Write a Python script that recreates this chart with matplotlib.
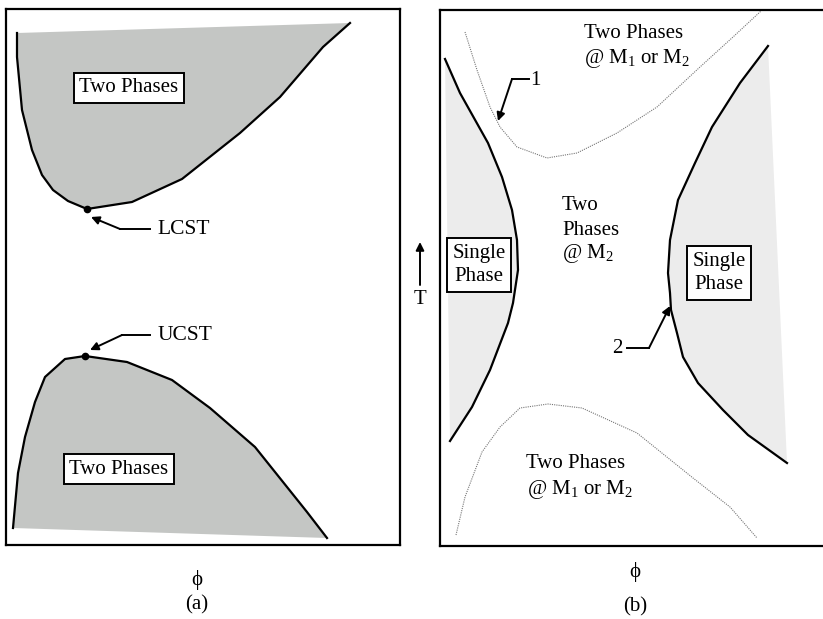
import matplotlib
matplotlib.use("Agg")
from matplotlib import pyplot as plt

plt.rcParams["font.family"] = ["Liberation Serif", "DejaVu Serif"]
plt.rcParams["font.size"] = 15
plt.rcParams["mathtext.fontset"] = "custom"
plt.rcParams["mathtext.rm"] = "Liberation Serif"
plt.rcParams["mathtext.it"] = "Liberation Serif:italic"

# coordinates, in picture pixels (y down)
# panel (a)
a_upper_x = [17, 17, 22, 32, 42, 53, 68, 87, 132, 182, 240, 280, 323, 350]
a_upper_y = [33, 57, 110, 150, 175, 190, 201, 209, 202, 179, 133, 97, 47, 23]
a_lower_x = [13, 18, 25, 35, 45, 65, 85, 127, 172, 210, 255, 307, 327]
a_lower_y = [528, 473, 437, 402, 377, 359, 356, 362, 380, 408, 447, 512, 538]
lcst = (87, 209)
ucst = (85, 356)

# panel (b)
b_left_x = [445, 460, 488, 502, 512, 517, 518, 513, 508, 490, 472, 450]
b_left_y = [59, 93, 143, 177, 210, 240, 270, 303, 323, 370, 407, 441]
b_right_x = [768, 740, 712, 695, 678, 670, 668, 670, 671, 677, 683, 698, 723, 748, 787]
b_right_y = [46, 83, 127, 163, 200, 240, 273, 293, 310, 333, 357, 383, 410, 435, 463]
b_dot_top_x = [465, 477, 490, 500, 517, 547, 577, 617, 657, 700, 733, 761]
b_dot_top_y = [32, 70, 107, 127, 147, 158, 153, 133, 107, 67, 37, 11]
b_dot_bot_x = [456, 465, 482, 500, 520, 548, 582, 637, 693, 730, 757]
b_dot_bot_y = [535, 497, 452, 427, 408, 404, 408, 433, 478, 507, 538]

W, H = 823, 619
fig = plt.figure(figsize=(W / 100, H / 100), dpi=100)


def make_axes(x0, x1, y0, y1):
    ax = fig.add_axes([x0 / W, (H - y1) / H, (x1 - x0) / W, (y1 - y0) / H])
    ax.set_xlim(x0, x1)
    ax.set_ylim(y1, y0)
    ax.set_xticks([])
    ax.set_yticks([])
    for s in ax.spines.values():
        s.set_linewidth(1.6)
    return ax


box = dict(boxstyle="square,pad=0.28", fc="white", ec="black", lw=1.4)
arrow = dict(arrowstyle="-|>", color="black", lw=1.4, mutation_scale=12,
             shrinkA=0, shrinkB=0)

# ---- (a)
ax = make_axes(6, 400, 9, 545)
ax.fill(a_upper_x, a_upper_y, color="#c4c6c4", lw=0)
ax.plot(a_upper_x, a_upper_y, color="black", lw=1.6)
ax.fill(a_lower_x, a_lower_y, color="#c4c6c4", lw=0)
ax.plot(a_lower_x, a_lower_y, color="black", lw=1.6)
ax.plot(*lcst, "o", color="black", ms=4.5)
ax.plot(*ucst, "o", color="black", ms=4.5)
ax.text(129, 88, "Two Phases", ha="center", va="center", bbox=box)
ax.text(119, 469, "Two Phases", ha="center", va="center", bbox=box)

ax.text(157, 229, "LCST", ha="left", va="center", fontsize=15.5)
ax.plot([150, 120], [229, 229], color="black", lw=1.4)
ax.annotate("", xy=(91, 217), xytext=(120, 229), arrowprops=arrow)
ax.text(158, 335, "UCST", ha="left", va="center", fontsize=15.5)
ax.plot([150, 122], [335, 335], color="black", lw=1.4)
ax.annotate("", xy=(90, 350), xytext=(122, 335), arrowprops=arrow)

ax.text(197, 580, "\u03d5", ha="center", va="center", clip_on=False)
ax.text(197, 605, "(a)", ha="center", va="center", clip_on=False)

# ---- (b)
ax = make_axes(440, 830, 10, 546)
ax.spines["right"].set_visible(False)
ax.fill(b_left_x, b_left_y, color="#ececec", lw=0)
ax.plot(b_left_x, b_left_y, color="black", lw=1.6)
ax.fill(b_right_x, b_right_y, color="#ececec", lw=0)
ax.plot(b_right_x, b_right_y, color="black", lw=1.6)
ax.plot(b_dot_top_x, b_dot_top_y, color="#777777", lw=0.8, ls=(0, (1, 1)))
ax.plot(b_dot_bot_x, b_dot_bot_y, color="#777777", lw=0.8, ls=(0, (1, 1)))

ax.text(634, 33, "Two Phases", ha="center", va="center")
ax.text(637, 58, "@ M$_1$ or M$_2$", ha="center", va="center")
ax.text(576, 463, "Two Phases", ha="center", va="center")
ax.text(580, 489, "@ M$_1$ or M$_2$", ha="center", va="center")
ax.text(562, 205, "Two", ha="left", va="center")
ax.text(562, 230, "Phases", ha="left", va="center")
ax.text(562, 253, "@ M$_2$", ha="left", va="center")
ax.text(479, 265, "Single\nPhase", ha="center", va="center", bbox=box,
        linespacing=1.25)
ax.text(719, 273, "Single\nPhase", ha="center", va="center", bbox=box,
        linespacing=1.25)

ax.text(535, 80, "1", ha="center", va="center")
ax.plot([512, 529], [79, 79], color="black", lw=1.4)
ax.annotate("", xy=(498, 121), xytext=(512, 79), arrowprops=arrow)
ax.text(617, 348, "2", ha="center", va="center")
ax.plot([627, 649], [348, 348], color="black", lw=1.4)
ax.annotate("", xy=(670, 306), xytext=(649, 348), arrowprops=arrow)

ax.annotate("", xy=(420, 242), xytext=(420, 285), arrowprops=arrow,
            annotation_clip=False)
ax.text(420, 299, "T", ha="center", va="center", clip_on=False)

ax.text(635, 572, "\u03d5", ha="center", va="center", clip_on=False)
ax.text(635, 607, "(b)", ha="center", va="center", clip_on=False)

fig.savefig("out.png", dpi=100)
